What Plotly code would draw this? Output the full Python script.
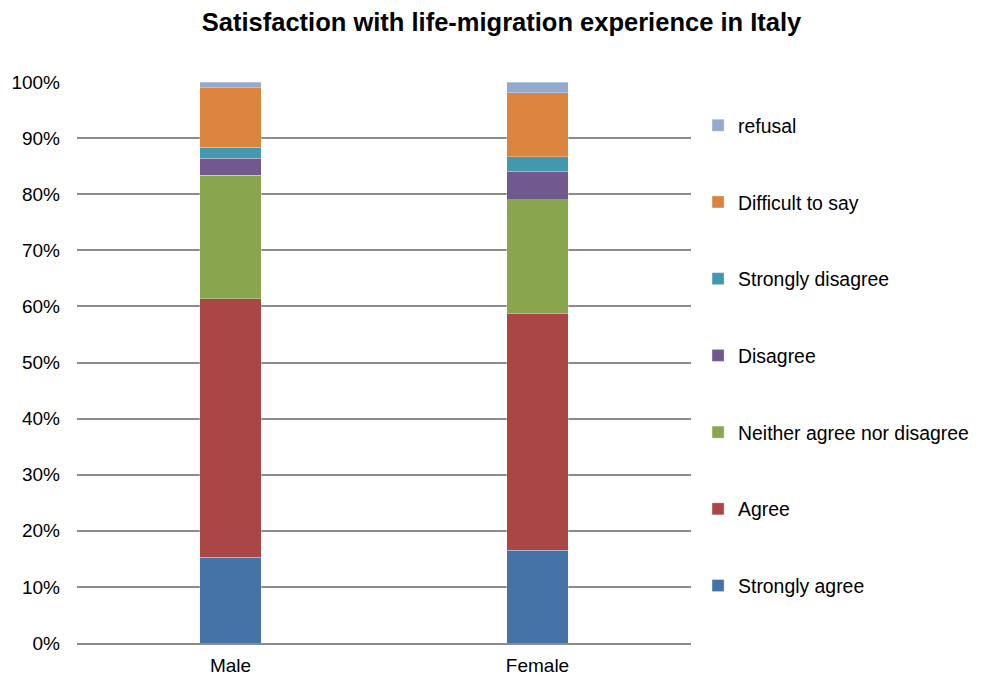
import plotly.graph_objects as go

categories = ["Male", "Female"]
series_names = ["Strongly agree", "Agree", "Neither agree nor disagree", "Disagree",
                "Strongly disagree", "Difficult to say", "refusal"]
strongly_agree = [15.3, 16.5]
agree = [46.1, 42.2]
neither = [22.0, 20.3]
disagree = [3.0, 5.1]
strongly_disagree = [2.0, 2.6]
difficult = [10.6, 11.4]
refusal = [1.0, 1.9]
y_ticks = [0, 10, 20, 30, 40, 50, 60, 70, 80, 90, 100]
y_tick_labels = ["0%", "10%", "20%", "30%", "40%", "50%", "60%", "70%", "80%", "90%", "100%"]

values = [strongly_agree, agree, neither, disagree, strongly_disagree, difficult, refusal]
colors = ["#4572A7", "#AA4643", "#89A54E", "#71588F", "#4198AF", "#DB843D", "#93A9CF"]

fig = go.Figure()
n = len(series_names)
for i, (name, vals, col) in enumerate(zip(series_names, values, colors)):
    fig.add_trace(go.Bar(
        x=categories, y=vals, name=name, legendgroup=name, legendrank=n - i,
        marker=dict(color=col, line=dict(color="rgba(255,255,255,0.6)", width=0.5)),
    ))

# page body has an 8px margin; figure sized/offset to compensate
fig.update_layout(
    width=973, height=668,
    barmode="stack", bargap=0.8,
    plot_bgcolor="white", paper_bgcolor="white",
    margin=dict(l=69, r=290, t=74, b=33, autoexpand=False),
    font=dict(family="Liberation Sans, Arial, sans-serif", size=19, color="#000000"),
    title=dict(text="<b>Satisfaction with life-migration experience in Italy</b>",
               x=0.5072, xanchor="center", y=0.979, yanchor="middle",
               font=dict(size=25.5, color="#000000")),
    legend=dict(x=1.0115, xref="paper", y=0.957, yanchor="top", traceorder="grouped",
                tracegroupgap=48.5, font=dict(size=19.4)),
    showlegend=True,
)
fig.update_yaxes(range=[0, 100], tickvals=y_ticks, ticktext=y_tick_labels,
                 showgrid=True, gridcolor="#8C8C8C", gridwidth=1.8,
                 zeroline=False, showline=False, ticklabelstandoff=16,
                 tickfont=dict(size=19), automargin=False)
fig.update_xaxes(showline=True, linecolor="#8C8C8C", linewidth=2,
                 tickfont=dict(size=19), ticklabelstandoff=4, automargin=False)

fig.write_html("out.html")
